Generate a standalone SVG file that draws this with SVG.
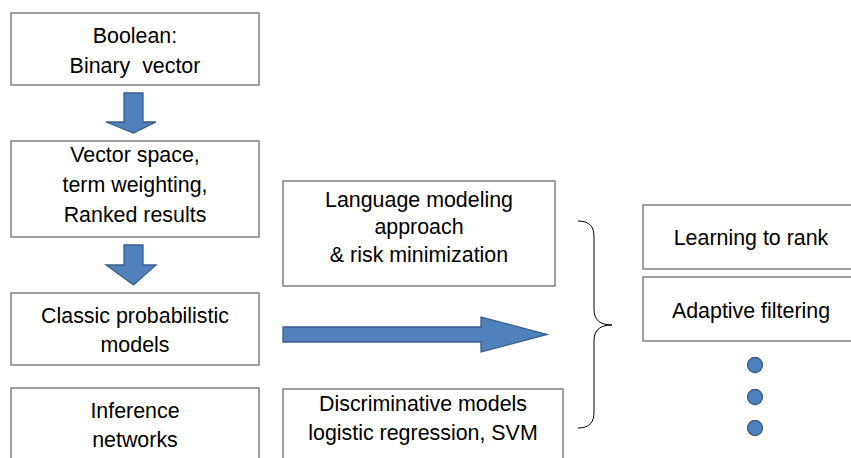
<svg xmlns="http://www.w3.org/2000/svg" width="851" height="458" viewBox="0 0 851 458">
<style>
.box{fill:#fff;stroke:#6b6b6b;stroke-width:1.3}
.t{font-family:"Liberation Sans",Arial,sans-serif;font-size:21.4px;fill:#000;text-anchor:middle;white-space:pre}
.arr{fill:#4F81BD;stroke:#385D8A;stroke-width:1.3}
.brace{fill:none;stroke:#000;stroke-width:1}
</style>
<rect width="851" height="458" fill="#fff"/>
<g id="n-boolean"><rect class="box" x="11" y="13" width="248" height="72"/><text class="t" x="135" y="43">Boolean:</text><text class="t" x="135" y="73" xml:space="preserve">Binary  vector</text></g>
<g id="n-vector"><rect class="box" x="11" y="141" width="248" height="96"/><text class="t" x="135" y="162">Vector space,</text><text class="t" x="135" y="192">term weighting,</text><text class="t" x="135" y="222">Ranked results</text></g>
<g id="n-classic"><rect class="box" x="11" y="293" width="248" height="72"/><text class="t" x="135" y="323">Classic probabilistic</text><text class="t" x="135" y="352">models</text></g>
<g id="n-inference"><rect class="box" x="11" y="388" width="248" height="80"/><text class="t" x="135" y="418">Inference</text><text class="t" x="135" y="447">networks</text></g>
<g id="n-language"><rect class="box" x="283" y="181" width="272" height="105"/><text class="t" x="419" y="207">Language modeling</text><text class="t" x="419" y="234">approach</text><text class="t" x="419" y="262">&amp; risk minimization</text></g>
<g id="n-discrim"><rect class="box" x="283" y="389" width="280" height="80"/><text class="t" x="423" y="411">Discriminative models</text><text class="t" x="423" y="440">logistic regression, SVM</text></g>
<g id="n-ltr"><rect class="box" x="643" y="205" width="215" height="64"/><text class="t" x="751" y="245">Learning to rank</text></g>
<g id="n-adaptive"><rect class="box" x="643" y="277" width="215" height="64"/><text class="t" x="751" y="318">Adaptive filtering</text></g>
<g id="n-dots"><circle class="arr" cx="755" cy="365" r="7.5"/><circle class="arr" cx="755" cy="397" r="7.5"/><circle class="arr" cx="755" cy="428" r="7.5"/></g>
<g id="connectors">
<path class="arr" d="M124,93 H143 V122 H156 L133.5,133 L106,122 H124 Z"/>
<path class="arr" d="M124,245 H143 V265 H156 L133.5,285 L106,265 H124 Z"/>
<path class="arr" d="M283,327 H481 V317 L547,334.5 L481,352 V342 H283 Z"/>
<path class="brace" d="M578,221 C590,221 594,227 594,237 V309 C594,320 600,325 612,325 C600,325 594,330 594,341 V412 C594,422 590,428 578,428"/>
</g>
</svg>
